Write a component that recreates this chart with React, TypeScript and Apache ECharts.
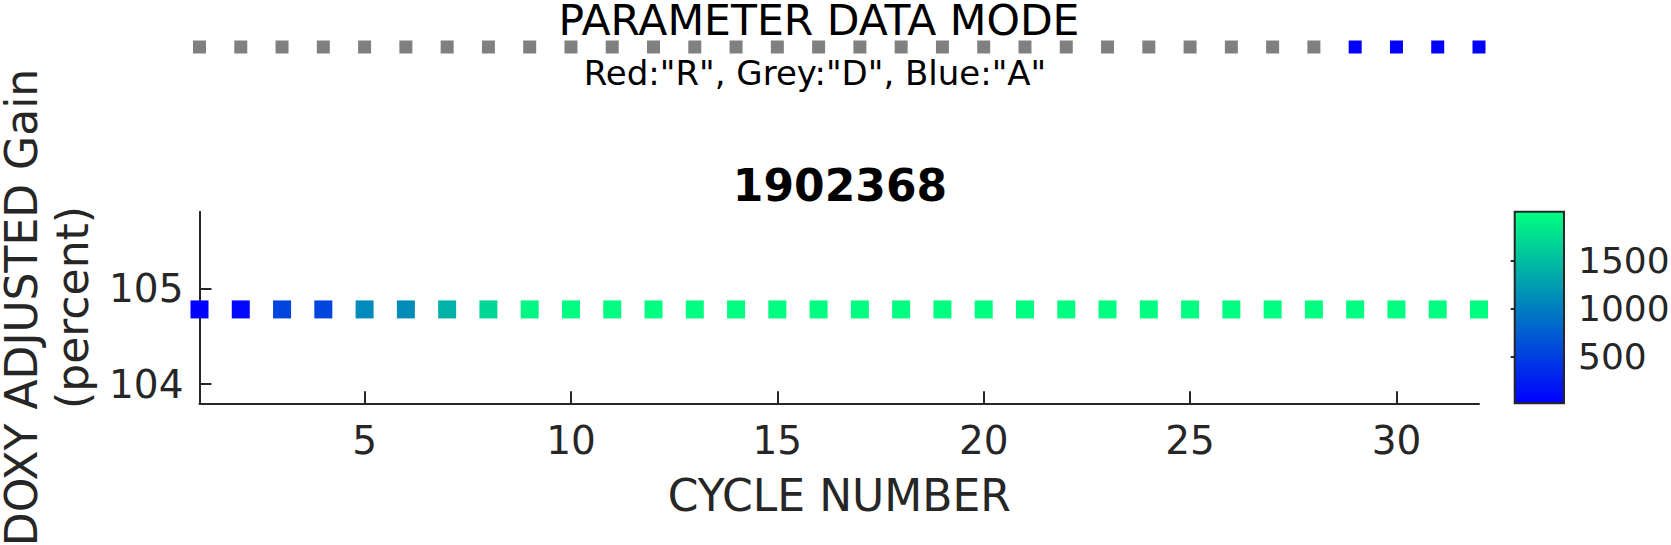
import React, { useEffect, useRef } from "react";
import * as echarts from "echarts";

// ---- data ----
const cycles = [1, 2, 3, 4, 5, 6, 7, 8, 9, 10, 11, 12, 13, 14, 15, 16, 17, 18, 19, 20, 21, 22, 23, 24, 25, 26, 27, 28, 29, 30, 31, 32];
const gain = [104.78, 104.78, 104.78, 104.78, 104.78, 104.78, 104.78, 104.78, 104.78, 104.78, 104.78, 104.78, 104.78, 104.78, 104.78, 104.78, 104.78, 104.78, 104.78, 104.78, 104.78, 104.78, 104.78, 104.78, 104.78, 104.78, 104.78, 104.78, 104.78, 104.78, 104.78, 104.78];
const colorValues = [7, 60, 550, 552, 1105, 1110, 1420, 1705, 1955, 1995, 2005, 2010, 2008, 2012, 2010, 2015, 2009, 2011, 2017, 2013, 2010, 2006, 2012, 2014, 2011, 2009, 2013, 2010, 2012, 2008, 2011, 2010];
const dataModes = ["D", "D", "D", "D", "D", "D", "D", "D", "D", "D", "D", "D", "D", "D", "D", "D", "D", "D", "D", "D", "D", "D", "D", "D", "D", "D", "D", "D", "A", "A", "A", "A"];
const xTicks = [5, 10, 15, 20, 25, 30];
const yTicks = [104, 105];
const cbTicks = [500, 1000, 1500];
const modeColors: Record<string, string> = { R: "#ff0000", D: "#808080", A: "#0000ff" };

const FONT = "DejaVu Sans";
const AX = "#262626";

export default function App() {
  const ref = useRef<HTMLDivElement>(null);
  useEffect(() => {
    if (!ref.current) return;
    const chart = echarts.init(ref.current, undefined, { renderer: "svg" });
    const cbMin = Math.min(...colorValues);
    const cbMax = Math.max(...colorValues);
    const mainData = cycles.map((c, i) => [c, gain[i], colorValues[i]]);
    const modeData = cycles.map((c, i) => ({ value: [c, 0], itemStyle: { color: modeColors[dataModes[i]], opacity: 1 } }));

    const L = 199.5, W = 1279.5, T = 211.7, H = 191.6;

    chart.setOption({
      animation: false,
      grid: [
        { left: L, top: T, width: W, height: H, outerBoundsMode: "none" },
        { left: L, top: 40, width: W, height: 14, outerBoundsMode: "none" },
        {
          left: 1514.7, top: T, width: 49.3, height: H, outerBoundsMode: "none",
          show: true,
          borderColor: AX,
          borderWidth: 2,
          backgroundColor: new echarts.graphic.LinearGradient(0, 0, 0, 1, [
            { offset: 0, color: "#00ff80" },
            { offset: 1, color: "#0000ff" },
          ]),
        },
      ],
      xAxis: [
        {
          type: "value", gridIndex: 0, min: 1, max: 32,
          axisLine: { show: true, onZero: false, lineStyle: { color: AX, width: 2 } },
          axisTick: { show: true, inside: true, length: 12, customValues: xTicks, lineStyle: { color: AX, width: 2 } },
          axisLabel: { customValues: xTicks, fontSize: 39, fontFamily: FONT, color: AX, margin: 18 },
          splitLine: { show: false },
          name: "CYCLE NUMBER",
          nameLocation: "middle",
          nameGap: 92,
          nameTextStyle: { fontSize: 44, fontFamily: FONT, color: AX, verticalAlign: "middle" },
        },
        { type: "value", gridIndex: 1, min: 1, max: 32, show: false },
        { type: "value", gridIndex: 2, min: 0, max: 1, show: false },
      ],
      yAxis: [
        {
          type: "value", gridIndex: 0, min: 103.8, max: 105.8,
          axisLine: { show: true, onZero: false, lineStyle: { color: AX, width: 2 } },
          axisTick: { show: true, inside: true, length: 12, customValues: yTicks, lineStyle: { color: AX, width: 2 } },
          axisLabel: { customValues: yTicks, fontSize: 39, fontFamily: FONT, color: AX, margin: 16 },
          splitLine: { show: false },
          name: "DOXY ADJUSTED Gain\n(percent)",
          nameLocation: "middle",
          nameRotate: 90,
          nameGap: 150,
          nameTextStyle: { fontSize: 44, fontFamily: FONT, color: AX, verticalAlign: "middle", align: "center", lineHeight: 51 },
        },
        { type: "value", gridIndex: 1, min: -1, max: 1, show: false },
        {
          type: "value", gridIndex: 2, min: cbMin, max: cbMax, position: "right",
          axisLine: { show: false },
          axisTick: { show: true, inside: true, length: 4, customValues: cbTicks, lineStyle: { color: AX, width: 2 } },
          axisLabel: { customValues: cbTicks, fontSize: 36, fontFamily: FONT, color: AX, margin: 14, formatter: (v: number) => String(v) },
          splitLine: { show: false },
        },
      ],
      visualMap: {
        type: "continuous",
        show: false,
        min: cbMin,
        max: cbMax,
        dimension: 2,
        seriesIndex: 0,
        inRange: { color: ["#0000ff", "#00ff80"] },
      },
      series: [
        {
          type: "scatter", xAxisIndex: 0, yAxisIndex: 0,
          symbol: "rect", symbolSize: 18, clip: false,
          itemStyle: { opacity: 1 },
          data: mainData,
        },
        {
          type: "scatter", xAxisIndex: 1, yAxisIndex: 1,
          symbol: "rect", symbolSize: 13, clip: false,
          itemStyle: { opacity: 1 },
          data: modeData,
        },
      ],
      graphic: [
        {
          type: "text", x: 819, y: 20,
          style: { text: "PARAMETER DATA MODE", fontSize: 42.5, fontFamily: FONT, fill: "#000", align: "center", verticalAlign: "middle" },
        },
        {
          type: "text", x: 815, y: 73,
          style: { text: 'Red:"R", Grey:"D", Blue:"A"', fontSize: 34, fontFamily: FONT, fill: "#000", align: "center", verticalAlign: "middle" },
        },
        {
          type: "text", x: 840, y: 185,
          style: { text: "1902368", fontSize: 44, fontWeight: "bold", fontFamily: FONT, fill: "#000", align: "center", verticalAlign: "middle" },
        },
      ],
    });
    return () => chart.dispose();
  }, []);
  return <div ref={ref} style={{ position: "absolute", left: 0, top: 0, width: 1671, height: 545, background: "#fff" }} />;
}
